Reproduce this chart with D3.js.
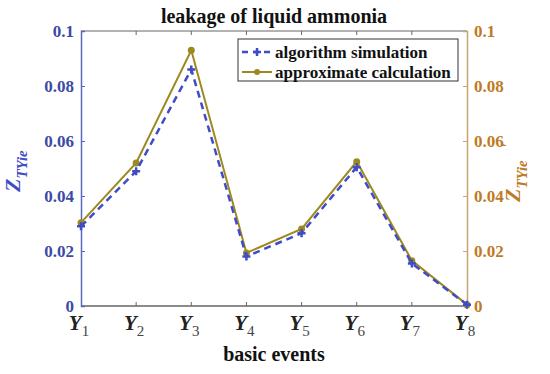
<!DOCTYPE html>
<html>
<head>
<meta charset="utf-8">
<script src="https://cdn.jsdelivr.net/npm/d3@7"></script>
<style>
  body { margin: 0; background: #fff; }
  svg text { font-family: "Liberation Serif", "Times New Roman", "DejaVu Serif", serif !important; }
</style>
</head>
<body>
<svg id="chart" width="550" height="374"></svg>
<script>
            // Data
            var events = ["1","2","3","4","5","6","7","8"];
            var simulation = [0.029, 0.049, 0.086, 0.018, 0.0265, 0.0505, 0.0155, 0.0005];
            var approximate = [0.0303, 0.052, 0.093, 0.0193, 0.028, 0.0525, 0.0165, 0.0005];
            var yTicks = [0, 0.02, 0.04, 0.06, 0.08, 0.1];
            var yTickLabels = ["0", "0.02", "0.04", "0.06", "0.08", "0.1"];

            // Colours
            var blue = "#3f4cc8";
            var blueText = "#3c4aa6";
            var olive = "#9c8a1e";
            var orangeText = "#bf7a26";
            var rightAxis = "#c6a470";

            // plot box (window.top is reserved, so prefixed names)
            var pLeft = 81, pRight = 467, pTop = 31, pBottom = 306;
            var svg = d3.select("#chart");

            var x = d3.scalePoint().domain(events).range([pLeft, pRight]);
            var y = d3.scaleLinear().domain([0, 0.1]).range([pBottom, pTop]);

            // box lines
            svg.append("line").attr("x1", pLeft).attr("x2", pRight).attr("y1", pTop).attr("y2", pTop)
                .attr("stroke", "#666").attr("stroke-width", 1);
            svg.append("line").attr("x1", pLeft).attr("x2", pRight).attr("y1", pBottom).attr("y2", pBottom)
                .attr("stroke", "#666").attr("stroke-width", 1.5);

            // top and bottom ticks (inward)
            var xt = events.slice(1, -1);
            svg.selectAll(".tt").data(xt).enter().append("line")
                .attr("x1", d => x(d)).attr("x2", d => x(d))
                .attr("y1", pTop).attr("y2", pTop + 4)
                .attr("stroke", "#666");
            svg.selectAll(".bt").data(xt).enter().append("line")
                .attr("x1", d => x(d)).attr("x2", d => x(d))
                .attr("y1", pBottom).attr("y2", pBottom - 4)
                .attr("stroke", "#666");

            // left axis
            var yl = svg.append("g").attr("transform", "translate(" + pLeft + ",0)")
                .call(d3.axisLeft(y).tickValues(yTicks).tickSize(-4)
                    .tickFormat((d, i) => yTickLabels[i]).tickPadding(7));
            yl.attr("font-family", null);
            yl.select(".domain").attr("stroke", "#5868c0").attr("stroke-width", 1.5);
            yl.selectAll(".tick line").attr("stroke", "#5868c0");
            yl.selectAll(".tick text").attr("fill", blueText)
                .style("font-size", "17px").style("font-weight", "bold");

            // right axis
            var yr = svg.append("g").attr("transform", "translate(" + pRight + ",0)")
                .call(d3.axisRight(y).tickValues(yTicks).tickSize(-4)
                    .tickFormat((d, i) => yTickLabels[i]).tickPadding(7));
            yr.attr("font-family", null);
            yr.select(".domain").attr("stroke", rightAxis).attr("stroke-width", 1.5);
            yr.selectAll(".tick line").attr("stroke", rightAxis);
            yr.selectAll(".tick text").attr("fill", orangeText)
                .style("font-size", "17px").style("font-weight", "bold");

            // x tick labels Y with subscript
            var xl = svg.selectAll(".xl").data(events).enter().append("text")
                .attr("x", d => x(d) - 2).attr("y", 330)
                .attr("text-anchor", "middle")
                .attr("fill", "#222");
            xl.append("tspan").text("Y").style("font-size", "21px")
                .style("font-weight", "bold").style("font-style", "italic");
            xl.append("tspan").text(d => d).attr("dy", 6).style("font-size", "15px").attr("fill", "#444");

            // lines
            var line = d3.line().x((d, i) => x(events[i])).y(d => y(d));

            svg.append("path").datum(approximate).attr("d", line)
                .attr("fill", "none").attr("stroke", olive).attr("stroke-width", 2);
            svg.selectAll(".ap").data(approximate).enter().append("circle")
                .attr("cx", (d, i) => x(events[i])).attr("cy", d => y(d))
                .attr("r", 3.5).attr("fill", olive);

            svg.append("path").datum(simulation).attr("d", line)
                .attr("fill", "none").attr("stroke", blue).attr("stroke-width", 2.5)
                .attr("stroke-dasharray", "7,5");
            svg.selectAll(".sp").data(simulation).enter().append("path")
                .attr("transform", (d, i) => "translate(" + x(events[i]) + "," + y(d) + ")")
                .attr("d", "M-4,0H4M0,-4V4")
                .attr("stroke", blue).attr("stroke-width", 2.5);

            // title and labels
            svg.append("text").attr("x", 274).attr("y", 23).attr("text-anchor", "middle")
                .style("font-size", "20px").style("font-weight", "bold").attr("fill", "#111")
                .text("leakage of liquid ammonia");
            svg.append("text").attr("x", 274).attr("y", 361).attr("text-anchor", "middle")
                .style("font-size", "20px").style("font-weight", "bold").attr("fill", "#111")
                .text("basic events");

            var lab = svg.append("text").attr("transform", "translate(20,192) rotate(-90)")
                .attr("fill", blue).style("font-weight", "bold").style("font-style", "italic");
            lab.append("tspan").text("Z").style("font-size", "22px");
            lab.append("tspan").text("TYie").attr("dy", 7).style("font-size", "15px");

            var rlab = svg.append("text").attr("transform", "translate(520,202) rotate(-90)")
                .attr("fill", orangeText).style("font-weight", "bold").style("font-style", "italic");
            rlab.append("tspan").text("Z").style("font-size", "22px");
            rlab.append("tspan").text("TYie").attr("dy", 7).style("font-size", "15px");
            rlab.append("tspan").text("'").attr("dy", -14).attr("dx", 12).style("font-size", "17px");

            // legend
            var lg = svg.append("g");
            lg.append("rect").attr("x", 238).attr("y", 39).attr("width", 220).attr("height", 42)
                .attr("fill", "#fff").attr("stroke", "#333").attr("stroke-width", 1);
            lg.append("line").attr("x1", 242).attr("x2", 272).attr("y1", 52).attr("y2", 52)
                .attr("stroke", blue).attr("stroke-width", 2.5).attr("stroke-dasharray", "6,5");
            lg.append("path").attr("transform", "translate(257,52)").attr("d", "M-4,0H4M0,-4V4")
                .attr("stroke", blue).attr("stroke-width", 2.5);
            lg.append("line").attr("x1", 242).attr("x2", 272).attr("y1", 72).attr("y2", 72)
                .attr("stroke", olive).attr("stroke-width", 2);
            lg.append("circle").attr("cx", 257).attr("cy", 72).attr("r", 3).attr("fill", olive);
            lg.append("text").attr("x", 275).attr("y", 58).style("font-size", "17px")
                .style("font-weight", "bold").attr("fill", "#111").text("algorithm simulation");
            lg.append("text").attr("x", 275).attr("y", 78).style("font-size", "17px")
                .style("font-weight", "bold").attr("fill", "#111").text("approximate calculation");
</script>
</body>
</html>
